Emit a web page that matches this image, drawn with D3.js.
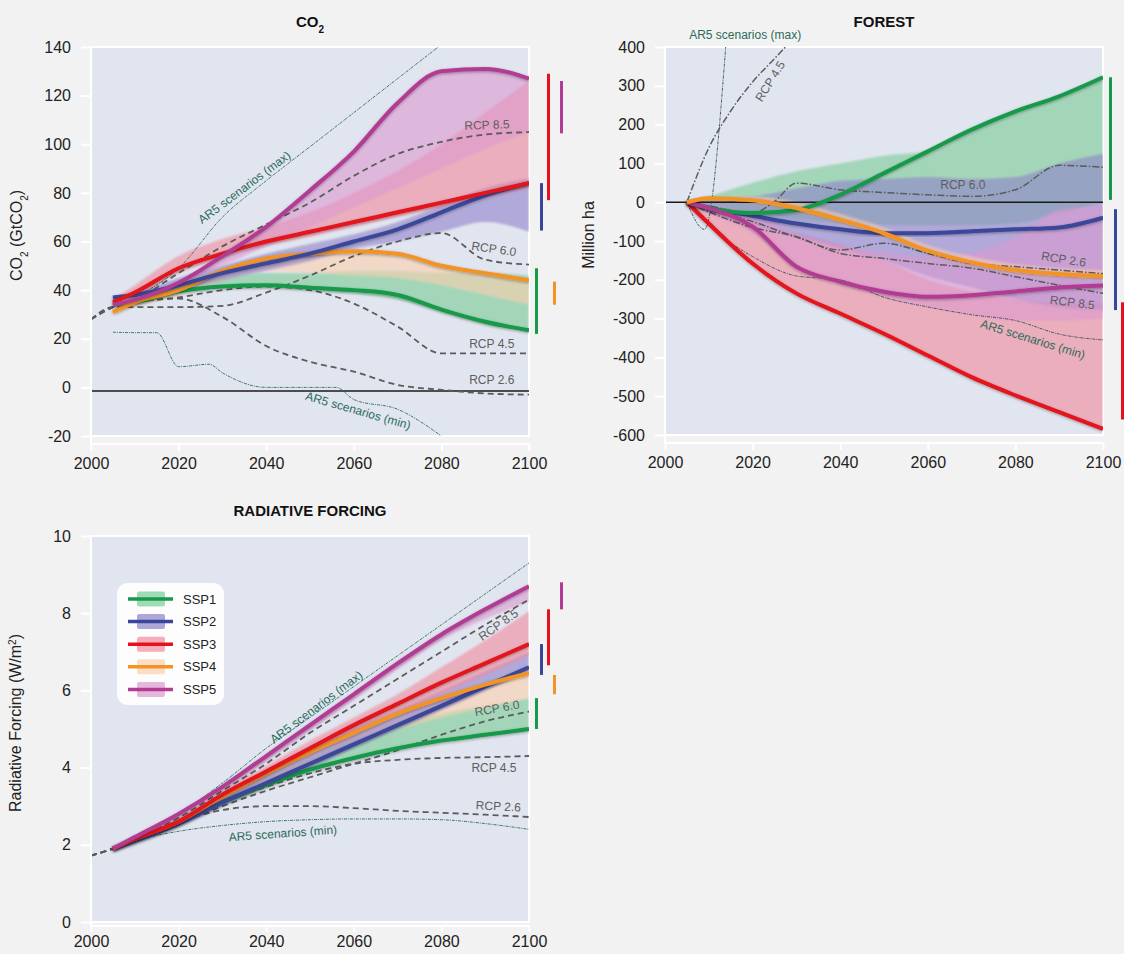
<!DOCTYPE html>
<html>
<head>
<meta charset="utf-8">
<script src="https://cdn.jsdelivr.net/npm/d3@7"></script>
<style>
  body { margin: 0; background: #f2f2f2; }
  text { font-family: "Liberation Sans", Arial, sans-serif; }
</style>
</head>
<body>
<svg id="fig" width="1124" height="954"></svg>
<script>
// ---- data ----
var years = [2005, 2010, 2020, 2030, 2040, 2050, 2060, 2070, 2080, 2090, 2100];
var rcpYears = [2000, 2005, 2010, 2020, 2030, 2040, 2050, 2060, 2070, 2080, 2090, 2100];
var sspNames = ["SSP1", "SSP2", "SSP3", "SSP4", "SSP5"];
var sspLine = ["#17994a", "#3a4699", "#e3121e", "#f39325", "#b23b93"];
var sspFill = ["#79cc95", "#8f82c9", "#f2899b", "#fbcfae", "#dc98cf"];
var rcpNames = ["RCP 8.5", "RCP 6.0", "RCP 4.5", "RCP 2.6"];

// CO2 (GtCO2)
var co2Ssp1 = [34, 35, 39.5, 41.5, 42, 41, 40, 38, 32, 27, 23.5];
var co2Ssp2 = [37, 38, 42, 47, 51, 55, 60, 65, 72, 79, 84];
var co2Ssp3 = [35, 39, 49, 55, 60, 64, 68, 72, 76, 80, 84];
var co2Ssp4 = [31, 35, 40, 48, 53, 55, 56, 55, 50, 47, 44];
var co2Ssp5 = [34, 36, 43, 54, 66, 81, 97, 117, 130, 131, 127];
var co2Low = [
  [34, 34.5, 39, 41, 41, 40, 38.5, 36, 31, 26, 23],
  [36, 37, 40, 44, 48, 52, 57, 60, 64, 68, 64],
  [35, 37, 47, 53, 58, 62, 66, 70, 74, 78, 82],
  [30, 33, 38, 44, 48, 47, 46, 45, 42, 38, 34],
  [34, 35, 42, 50, 58, 66, 74, 82, 90, 98, 105]
];
var co2High = [
  [34, 36, 42, 45, 47, 47, 48, 48, 47, 47, 46],
  [37, 39, 45, 50, 55, 59, 63, 68, 75, 82, 86],
  [36, 42, 54, 61, 66, 72, 80, 89, 100, 113, 126],
  [31, 35, 40, 48, 53, 55, 56, 55, 50, 47, 44],
  [34, 36, 43, 54, 66, 81, 97, 117, 130, 131, 127]
];
var co2Rcp = [
  [28, 33, 36, 47, 58, 67, 76, 87, 96, 101, 104, 105],
  [28, 33, 33, 33, 33.5, 39, 46, 54, 60, 63.5, 52.5, 50.5],
  [28, 33, 35, 37, 40, 41.5, 40, 34.5, 25, 14, 14, 14],
  [28, 33, 35, 36.5, 29, 17, 10.5, 6.5, 1, -1, -2.5, -3]
];
var co2Ar5MaxYears = [2005, 2010, 2020, 2030, 2040, 2050, 2060, 2070, 2080];
var co2Ar5Max = [33, 37, 49, 70, 85, 99, 113, 127, 141];
var co2Ar5MinYears = [2005, 2010, 2015, 2020, 2027, 2030, 2040, 2050, 2056, 2060, 2070, 2080];
var co2Ar5Min = [22.7, 22.5, 22.5, 8.5, 9.5, 6, 0, 0, 0, -5, -9, -20];
var co2Range = [[22, 49], [64.5, 84], [77, 129], [34, 43.5], [104.5, 126]];
var co2Ticks = [-20, 0, 20, 40, 60, 80, 100, 120, 140];

// Forest (million ha)
var frSsp1 = [0, -15, -28, -20, 19, 75, 131, 187, 234, 273, 322];
var frSsp2 = [0, -15, -35, -55, -70, -80, -80, -75, -70, -65, -40];
var frSsp3 = [0, -55, -158, -235, -287, -339, -395, -451, -498, -541, -584];
var frSsp4 = [0, 10, 5, -15, -45, -80, -125, -155, -175, -185, -190];
var frSsp5 = [0, -15, -63, -166, -205, -231, -244, -240, -230, -220, -215];
var frLow = [
  [0, -5, -30, -45, -55, -60, -60, -60, -55, -30, 0],
  [0, -20, -60, -90, -120, -150, -190, -220, -250, -270, -278],
  [0, -55, -158, -235, -287, -339, -395, -451, -498, -541, -584],
  [0, 0, -5, -25, -55, -90, -135, -165, -185, -195, -200],
  [0, -30, -80, -170, -210, -245, -270, -290, -305, -305, -300]
];
var frHigh = [
  [0, 15, 50, 80, 100, 120, 131, 187, 234, 273, 322],
  [0, 10, 15, 35, 55, 60, 65, 60, 65, 100, 125],
  [0, -20, -50, -80, -110, -150, -200, -230, -250, -260, -260],
  [0, 15, 15, 0, -30, -65, -110, -140, -160, -170, -175],
  [0, -10, -30, -80, -110, -130, -140, -130, -90, -20, -10]
];
var frRcp85 = [0, -25, -65, -89, -132, -145, -158, -170, -192, -214, -235];
var frRcp60Years = [2005, 2010, 2020, 2025, 2030, 2040, 2050, 2060, 2070, 2080, 2090, 2100];
var frRcp60 = [0, -10, -28, 2, 49, 32, 25, 19, 15, 32, 95, 90];
var frRcp45Years = [2005, 2010, 2015, 2020, 2025, 2030];
var frRcp45 = [0, 140, 235, 310, 370, 430];
var frRcp26 = [0, -20, -50, -90, -123, -106, -132, -158, -166, -175, -184];
var frAr5MaxYears = [2005, 2009, 2014];
var frAr5Max = [0, -70, 420];
var frAr5Min = [0, -60, -140, -190, -200, -245, -270, -290, -305, -340, -355];
var frRange = [[6, 322], [-278, -18], [-560, -258], null, null];
var frTicks = [-600, -500, -400, -300, -200, -100, 0, 100, 200, 300, 400];

// Radiative forcing (W/m2)
var rfSsp1 = [1.9, 2.1, 2.55, 3.1, 3.55, 3.95, 4.25, 4.5, 4.7, 4.85, 5.0];
var rfSsp2 = [1.9, 2.1, 2.55, 3.1, 3.6, 4.1, 4.6, 5.1, 5.6, 6.1, 6.6];
var rfSsp3 = [1.9, 2.15, 2.6, 3.3, 3.9, 4.5, 5.1, 5.65, 6.2, 6.7, 7.2];
var rfSsp4 = [1.9, 2.15, 2.6, 3.25, 3.85, 4.4, 4.9, 5.4, 5.8, 6.15, 6.45];
var rfSsp5 = [1.9, 2.2, 2.8, 3.5, 4.3, 5.1, 5.9, 6.7, 7.45, 8.1, 8.7];
var rfLow = [
  [1.9, 2.1, 2.55, 3.1, 3.55, 3.95, 4.25, 4.5, 4.7, 4.85, 5.0],
  [1.9, 2.1, 2.5, 3.0, 3.5, 4.0, 4.5, 5.0, 5.5, 6.0, 6.5],
  [1.9, 2.1, 2.6, 3.2, 3.8, 4.35, 4.9, 5.4, 5.9, 6.4, 6.9],
  [1.9, 2.1, 2.55, 3.1, 3.6, 4.15, 4.7, 5.0, 5.3, 5.55, 5.8],
  [1.9, 2.15, 2.7, 3.4, 4.15, 4.95, 5.75, 6.55, 7.3, 7.85, 8.3]
];
var rfHigh = [
  [1.9, 2.15, 2.6, 3.2, 3.7, 4.2, 4.7, 5.1, 5.4, 5.6, 5.8],
  [1.9, 2.15, 2.65, 3.3, 3.9, 4.45, 5.0, 5.5, 6.0, 6.5, 7.0],
  [1.9, 2.2, 2.7, 3.4, 4.05, 4.7, 5.3, 5.9, 6.6, 7.3, 8.05],
  [1.9, 2.15, 2.6, 3.25, 3.85, 4.4, 4.9, 5.4, 5.8, 6.15, 6.45],
  [1.9, 2.2, 2.8, 3.5, 4.3, 5.1, 5.9, 6.7, 7.45, 8.1, 8.7]
];
var rfRcp = [
  [1.72, 1.9, 2.15, 2.7, 3.4, 4.1, 4.9, 5.6, 6.3, 7.0, 7.7, 8.35],
  [1.72, 1.9, 2.1, 2.55, 3.0, 3.4, 3.75, 4.1, 4.45, 4.85, 5.2, 5.45],
  [1.72, 1.9, 2.1, 2.6, 3.1, 3.5, 3.85, 4.1, 4.2, 4.25, 4.27, 4.3],
  [1.72, 1.9, 2.15, 2.6, 2.9, 3.0, 3.0, 2.95, 2.88, 2.83, 2.78, 2.72]
];
var rfAr5Max = [1.9, 2.2, 2.8, 3.6, 4.5, 5.3, 6.1, 6.9, 7.7, 8.5, 9.3];
var rfAr5Min = [1.9, 2.1, 2.35, 2.5, 2.6, 2.65, 2.67, 2.67, 2.65, 2.55, 2.4];
var rfRange = [[5.0, 5.8], [6.4, 7.2], [6.65, 8.1], [5.9, 6.4], [8.1, 8.8]];
var rfTicks = [0, 2, 4, 6, 8, 10];

var xTicks = [2000, 2020, 2040, 2060, 2080, 2100];

// ---- drawing ----
var svg = d3.select("#fig");
var defs = svg.append("defs");
var shadow = defs.append("filter").attr("id", "shadow")
  .attr("x", "-10%").attr("y", "-10%").attr("width", "120%").attr("height", "120%");
shadow.append("feDropShadow").attr("dx", 0).attr("dy", 1).attr("stdDeviation", 1.4)
  .attr("flood-color", "#000").attr("flood-opacity", 0.35);
var soft = defs.append("filter").attr("id", "soft");
soft.append("feGaussianBlur").attr("stdDeviation", 0.8);

var rcpGray = "#5b5b5b";
var ar5Teal = "#2c6b5b";
var barOffsets = [6, 11, 18, 24, 31]; // px right of the 2100 edge
var plain = function(d) { return String(d); }; // hyphen minus, like the original

function zip(xs, ys) {
  return xs.map(function(d, i) { return [d, ys[i]]; });
}

function drawPanel(p, idx) {
  var x = d3.scaleLinear().domain([2000, 2100]).range([p.left, p.right]);
  var y = d3.scaleLinear().domain(p.domain).range([p.bottom, p.top]);
  var g = svg.append("g");
  var axisY = p.bottom + p.axisGap;

  g.append("rect")
    .attr("x", p.left).attr("y", p.top)
    .attr("width", p.right - p.left).attr("height", p.bottom - p.top)
    .attr("fill", "#e1e5ef").attr("stroke", "#fff").attr("stroke-width", 2);

  defs.append("clipPath").attr("id", "clip" + idx)
    .append("rect").attr("x", p.left).attr("y", p.top)
    .attr("width", p.right - p.left).attr("height", p.bottom - p.top);
  var inner = g.append("g").attr("clip-path", "url(#clip" + idx + ")");

  // axes
  var yAxis = g.append("g").attr("transform", "translate(" + p.left + ",0)")
    .call(d3.axisLeft(y).tickValues(p.ticks).tickFormat(plain)
      .tickSize(10).tickPadding(10).tickSizeOuter(0));
  var xAxis = g.append("g").attr("transform", "translate(0," + axisY + ")")
    .call(d3.axisBottom(x).tickValues(xTicks).tickFormat(plain)
      .tickSize(p.xTickSize).tickPadding(p.xPad).tickSizeOuter(0));
  [yAxis, xAxis].forEach(function(a) {
    a.select(".domain").remove();
    a.selectAll(".tick line").attr("stroke", "#fff").attr("stroke-width", 2);
    a.selectAll(".tick text").attr("fill", "#222").style("font-size", "16px")
      .style("font-family", "'Liberation Sans', Arial, sans-serif");
  });
  g.append("line").attr("x1", p.left).attr("x2", p.left)
    .attr("y1", p.top).attr("y2", axisY).attr("stroke", "#fff").attr("stroke-width", 2);
  g.append("line").attr("x1", p.left).attr("x2", p.right)
    .attr("y1", axisY).attr("y2", axisY).attr("stroke", "#fff").attr("stroke-width", 2);

  var area = d3.area().x(function(d) { return x(d[0]); })
    .y0(function(d) { return y(d[1]); }).y1(function(d) { return y(d[2]); })
    .curve(d3.curveMonotoneX);
  var line = d3.line().x(function(d) { return x(d[0]); }).y(function(d) { return y(d[1]); })
    .curve(d3.curveMonotoneX);

  // bands
  p.bandOrder.forEach(function(k) {
    var pts = years.map(function(yr, i) { return [yr, p.low[k][i], p.high[k][i]]; });
    inner.append("path").attr("d", area(pts))
      .attr("fill", sspFill[k]).attr("fill-opacity", p.bandOpacity)
      .attr("filter", "url(#soft)");
  });

  // reference line
  if (p.refLine !== null) {
    inner.append("line").attr("x1", x(2000)).attr("x2", x(2100))
      .attr("y1", y(p.refLine)).attr("y2", y(p.refLine))
      .attr("stroke", "#1a1a1a").attr("stroke-width", 1.6);
  }

  // RCP and AR5 lines
  p.rcp.forEach(function(r) {
    inner.append("path").attr("d", line(zip(r.years, r.vals)))
      .attr("fill", "none").attr("stroke", rcpGray).attr("stroke-width", p.rcpWidth)
      .attr("stroke-dasharray", p.rcpDash);
  });
  p.ar5.forEach(function(r) {
    inner.append("path").attr("d", line(zip(r.years, r.vals)))
      .attr("fill", "none").attr("stroke", p.ar5Color).attr("stroke-width", 0.9)
      .attr("stroke-dasharray", "3,1,1,1");
  });

  // SSP lines
  p.lineOrder.forEach(function(k) {
    inner.append("path").attr("d", line(zip(years, p.lines[k])))
      .attr("fill", "none").attr("stroke", sspLine[k]).attr("stroke-width", 4)
      .attr("stroke-linejoin", "round").attr("filter", "url(#shadow)");
  });

  // range bars at 2100
  p.range.forEach(function(r, k) {
    if (!r) return;
    g.append("rect").attr("x", x(2100) + barOffsets[k]).attr("width", 3)
      .attr("y", y(r[1])).attr("height", y(r[0]) - y(r[1]))
      .attr("fill", sspLine[k]);
  });

  // annotations
  p.labels.forEach(function(l) {
    g.append("text")
      .attr("transform", "translate(" + x(l.year) + "," + y(l.val) + ") rotate(" + l.rot + ")")
      .attr("text-anchor", "middle").attr("dy", "0.35em")
      .attr("fill", l.ar5 ? ar5Teal : "#5e5e5e")
      .style("font-size", "12px")
      .text(l.text);
  });

  // title
  var t = g.append("text").attr("x", (p.left + p.right) / 2).attr("y", p.top - 20)
    .attr("text-anchor", "middle").style("font-size", "15px").style("font-weight", "bold").attr("fill", "#111");
  p.title(t);

  // y label
  var yl = g.append("text")
    .attr("transform", "translate(" + p.ylabelX + "," + ((p.top + p.bottom) / 2 - 6) + ") rotate(-90)")
    .attr("text-anchor", "middle").style("font-size", "16px").attr("fill", "#222");
  p.ylabel(yl);
}

var co2Panel = {
  left: 91, right: 529, top: 47, bottom: 436, domain: [-20, 140], ticks: co2Ticks,
  axisGap: 8, xTickSize: 7, xPad: 7,
  lines: [co2Ssp1, co2Ssp2, co2Ssp3, co2Ssp4, co2Ssp5], low: co2Low, high: co2High,
  bandOrder: [0, 3, 1, 2, 4], lineOrder: [0, 3, 1, 2, 4], bandOpacity: 0.6,
  refLine: -1.5, range: co2Range,
  rcp: co2Rcp.map(function(v) { return { years: rcpYears, vals: v }; }),
  rcpDash: "6,4", rcpWidth: 1.8, ar5Color: ar5Teal,
  ar5: [{ years: co2Ar5MaxYears, vals: co2Ar5Max }, { years: co2Ar5MinYears, vals: co2Ar5Min }],
  labels: [
    { text: "AR5 scenarios (max)", year: 2035, val: 82.3, rot: -37, ar5: true },
    { text: "AR5 scenarios (min)", year: 2061, val: -9.5, rot: 16, ar5: true },
    { text: rcpNames[0], year: 2090.4, val: 108, rot: -2 },
    { text: rcpNames[1], year: 2092, val: 57, rot: 8 },
    { text: rcpNames[2], year: 2091.5, val: 18, rot: 0 },
    { text: rcpNames[3], year: 2091.5, val: 3.3, rot: 0 }
  ],
  ylabelX: 22,
  title: function(t) {
    t.append("tspan").text("CO");
    t.append("tspan").text("2").attr("baseline-shift", "sub").style("font-size", "10px");
  },
  ylabel: function(t) {
    t.append("tspan").text("CO");
    t.append("tspan").text("2").attr("baseline-shift", "sub").style("font-size", "10px");
    t.append("tspan").text(" (GtCO");
    t.append("tspan").text("2").attr("baseline-shift", "sub").style("font-size", "10px");
    t.append("tspan").text(")");
  }
};

var forestPanel = {
  left: 665, right: 1103, top: 47, bottom: 435, domain: [-600, 400], ticks: frTicks,
  axisGap: 8, xTickSize: 7, xPad: 7,
  lines: [frSsp1, frSsp2, frSsp3, frSsp4, frSsp5], low: frLow, high: frHigh,
  bandOrder: [2, 0, 1, 4, 3], lineOrder: [2, 1, 0, 4, 3], bandOpacity: 0.6,
  refLine: 0, range: frRange,
  rcp: [
    { years: years, vals: frRcp85 }, { years: frRcp60Years, vals: frRcp60 },
    { years: frRcp45Years, vals: frRcp45 }, { years: years, vals: frRcp26 }
  ],
  rcpDash: "7,2,1.5,2", rcpWidth: 1.5, ar5Color: "#35505a",
  ar5: [{ years: frAr5MaxYears, vals: frAr5Max }, { years: years, vals: frAr5Min }],
  labels: [
    { text: "AR5 scenarios (max)", year: 2018.3, val: 432, rot: 0, ar5: true },
    { text: rcpNames[2], year: 2024, val: 312, rot: -58 },
    { text: rcpNames[1], year: 2068, val: 46, rot: 0 },
    { text: rcpNames[3], year: 2091, val: -147, rot: 9 },
    { text: rcpNames[0], year: 2093, val: -258, rot: 7 },
    { text: "AR5 scenarios (min)", year: 2084, val: -353, rot: 17, ar5: true }
  ],
  ylabelX: 594,
  title: function(t) { t.text("FOREST"); },
  ylabel: function(t) { t.text("Million ha"); }
};

var rfPanel = {
  left: 91, right: 529, top: 536, bottom: 922, domain: [0, 10], ticks: rfTicks,
  axisGap: 4, xTickSize: 6, xPad: 4,
  lines: [rfSsp1, rfSsp2, rfSsp3, rfSsp4, rfSsp5], low: rfLow, high: rfHigh,
  bandOrder: [0, 3, 1, 2, 4], lineOrder: [0, 1, 3, 2, 4], bandOpacity: 0.6,
  refLine: null, range: rfRange,
  rcp: rfRcp.map(function(v) { return { years: rcpYears, vals: v }; }),
  rcpDash: "6,4", rcpWidth: 1.8, ar5Color: ar5Teal,
  ar5: [{ years: years, vals: rfAr5Max }, { years: years, vals: rfAr5Min }],
  labels: [
    { text: "AR5 scenarios (max)", year: 2051.4, val: 5.57, rot: -37, ar5: true },
    { text: "AR5 scenarios (min)", year: 2043.8, val: 2.3, rot: -4, ar5: true },
    { text: rcpNames[0], year: 2093, val: 7.7, rot: -35 },
    { text: rcpNames[1], year: 2092.7, val: 5.54, rot: -10 },
    { text: rcpNames[2], year: 2092, val: 4.0, rot: 0 },
    { text: rcpNames[3], year: 2093, val: 3.0, rot: 3 }
  ],
  ylabelX: 21,
  title: function(t) { t.text("RADIATIVE FORCING"); },
  ylabel: function(t) {
    t.append("tspan").text("Radiative Forcing (W/m");
    t.append("tspan").text("2").attr("baseline-shift", "super").style("font-size", "10px");
    t.append("tspan").text(")");
  }
};

drawPanel(co2Panel, 0);
drawPanel(forestPanel, 1);
drawPanel(rfPanel, 2);

// legend
var leg = svg.append("g").attr("transform", "translate(117,583)");
leg.append("rect").attr("width", 107).attr("height", 122).attr("rx", 11)
  .attr("fill", "#fff").attr("fill-opacity", 0.92);
var rows = leg.selectAll("g.row").data(sspNames).enter().append("g")
  .attr("transform", function(d, i) { return "translate(0," + (16 + i * 22.6) + ")"; });
rows.append("rect").attr("x", 20).attr("y", -7.5).attr("width", 28).attr("height", 15).attr("rx", 2)
  .attr("fill", function(d, i) { return sspFill[i]; }).attr("fill-opacity", 0.7);
rows.append("line").attr("x1", 11).attr("x2", 56)
  .attr("stroke", function(d, i) { return sspLine[i]; }).attr("stroke-width", 3.5);
rows.append("text").attr("x", 66).attr("dy", "0.35em").style("font-size", "13px").attr("fill", "#222")
  .text(function(d) { return d; });
</script>
</body>
</html>
